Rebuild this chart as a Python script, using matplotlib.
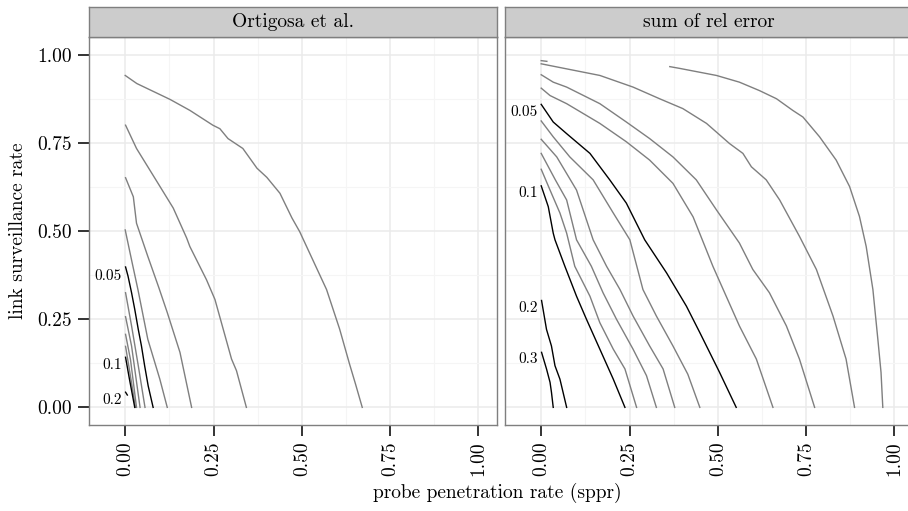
import matplotlib
matplotlib.use('Agg')
import matplotlib.pyplot as plt
import numpy as np

# contour lines, (x, y) per line
# Ortigosa et al. panel
ort_x = [
    [0.0, 0.033, 0.127, 0.183, 0.248, 0.268, 0.291, 0.333, 0.373, 0.401, 0.438, 0.472, 0.494, 0.570, 0.607, 0.635, 0.652, 0.671],
    [0.001, 0.032, 0.093, 0.136, 0.174, 0.183, 0.230, 0.254, 0.301, 0.315, 0.343],
    [0.001, 0.023, 0.032, 0.064, 0.095, 0.119, 0.155, 0.188],
    [0.0, 0.019, 0.036, 0.064, 0.098, 0.119],
    [0.001, 0.008, 0.018, 0.027, 0.037, 0.046, 0.055, 0.065, 0.079],
    [0.001, 0.018, 0.037, 0.056],
    [0.001, 0.018, 0.042],
    [0.001, 0.015, 0.032],
    [0.001, 0.013, 0.029],
    [0.001, 0.012, 0.027],
    [0.001, 0.006],
]
ort_y = [
    [0.941, 0.918, 0.873, 0.842, 0.800, 0.790, 0.762, 0.734, 0.678, 0.652, 0.607, 0.537, 0.498, 0.334, 0.222, 0.123, 0.066, 0.0],
    [0.800, 0.734, 0.635, 0.565, 0.480, 0.456, 0.362, 0.306, 0.137, 0.104, 0.0],
    [0.651, 0.597, 0.522, 0.428, 0.340, 0.269, 0.156, 0.0],
    [0.503, 0.413, 0.334, 0.193, 0.080, 0.0],
    [0.398, 0.372, 0.325, 0.278, 0.221, 0.174, 0.118, 0.061, 0.0],
    [0.325, 0.231, 0.118, 0.0],
    [0.257, 0.174, 0.0],
    [0.207, 0.135, 0.0],
    [0.173, 0.100, 0.0],
    [0.142, 0.080, 0.0],
    [0.043, 0.035],
]
ort_major = [False, False, False, False, True, False, False, False, False, True, True]
ort_labels = ['0.05', '0.1', '0.2']
ort_label_y = [0.373, 0.120, 0.021]

# sum of rel error panel
sre_x = [
    [0.0, 0.016],
    [0.364, 0.392, 0.496, 0.561, 0.618, 0.666, 0.712, 0.741, 0.788, 0.835, 0.873, 0.901, 0.920, 0.939, 0.953, 0.962, 0.967],
    [0.0, 0.025, 0.166, 0.260, 0.335, 0.401, 0.468, 0.533, 0.571, 0.595, 0.637, 0.675, 0.731, 0.779, 0.826, 0.863, 0.887],
    [0.0, 0.034, 0.072, 0.166, 0.241, 0.307, 0.373, 0.439, 0.496, 0.561, 0.599, 0.646, 0.694, 0.731, 0.774],
    [0.0, 0.025, 0.072, 0.166, 0.241, 0.307, 0.373, 0.430, 0.486, 0.561, 0.609, 0.656],
    [0.0, 0.034, 0.072, 0.138, 0.194, 0.241, 0.293, 0.355, 0.411, 0.449, 0.505, 0.552],
    [0.0, 0.034, 0.081, 0.147, 0.204, 0.251, 0.288, 0.326, 0.373, 0.415, 0.449],
    [0.0, 0.044, 0.100, 0.147, 0.185, 0.223, 0.260, 0.307, 0.345, 0.378],
    [0.0, 0.040, 0.072, 0.100, 0.142, 0.175, 0.213, 0.260, 0.298, 0.326],
    [0.0, 0.025, 0.053, 0.072, 0.095, 0.138, 0.166, 0.204, 0.237, 0.270],
    [0.0, 0.020, 0.034, 0.039, 0.067, 0.100, 0.128, 0.166, 0.204, 0.237],
    [0.001, 0.015, 0.029, 0.039, 0.053, 0.072],
    [0.001, 0.015, 0.025, 0.029, 0.034],
]
sre_y = [
    [0.983, 0.981],
    [0.966, 0.961, 0.941, 0.922, 0.898, 0.875, 0.842, 0.823, 0.767, 0.701, 0.626, 0.541, 0.456, 0.334, 0.193, 0.099, 0.0],
    [0.974, 0.969, 0.941, 0.908, 0.875, 0.847, 0.805, 0.748, 0.720, 0.682, 0.645, 0.588, 0.485, 0.391, 0.259, 0.137, 0.0],
    [0.943, 0.922, 0.908, 0.861, 0.809, 0.762, 0.710, 0.645, 0.560, 0.466, 0.391, 0.325, 0.231, 0.137, 0.0],
    [0.905, 0.884, 0.861, 0.805, 0.753, 0.701, 0.635, 0.540, 0.400, 0.231, 0.137, 0.0],
    [0.859, 0.809, 0.776, 0.720, 0.645, 0.579, 0.475, 0.381, 0.287, 0.212, 0.099, 0.0],
    [0.812, 0.767, 0.710, 0.645, 0.551, 0.475, 0.334, 0.259, 0.174, 0.094, 0.0],
    [0.760, 0.710, 0.616, 0.475, 0.400, 0.334, 0.259, 0.174, 0.109, 0.0],
    [0.720, 0.645, 0.588, 0.475, 0.400, 0.325, 0.250, 0.165, 0.090, 0.0],
    [0.675, 0.616, 0.551, 0.494, 0.400, 0.315, 0.240, 0.165, 0.109, 0.0],
    [0.628, 0.569, 0.494, 0.475, 0.400, 0.315, 0.250, 0.165, 0.080, 0.0],
    [0.303, 0.221, 0.174, 0.118, 0.080, 0.0],
    [0.156, 0.109, 0.071, 0.043, 0.0],
]
sre_major = [False, False, False, False, False, True, False, False, False, False, True, True, True]
sre_labels = ['0.05', '0.1', '0.2', '0.3']
sre_label_y = [0.836, 0.608, 0.281, 0.138]

panels = ['Ortigosa et al.', 'sum of rel error']
ticks = [0, 0.25, 0.5, 0.75, 1.0]
tick_labels = ['0.00', '0.25', '0.50', '0.75', '1.00']
minor = [0.125, 0.375, 0.625, 0.875]

plt.rcParams['font.family'] = 'cmr10'
plt.rcParams['mathtext.fontset'] = 'cm'
plt.rcParams['axes.formatter.use_mathtext'] = True

W, H = 908, 511
fig = plt.figure(figsize=(W / 100, H / 100), dpi=100)

panel_left = [89, 505]
pw = 408
top, bottom = 37, 425
strip_top = 7

data = [(ort_x, ort_y, ort_major, ort_labels, ort_label_y),
        (sre_x, sre_y, sre_major, sre_labels, sre_label_y)]

for i, (name, (xs, ys, major, labs, laby)) in enumerate(zip(panels, data)):
    l = panel_left[i]
    ax = fig.add_axes([l / W, (H - bottom) / H, pw / W, (bottom - top) / H])
    ax.set_xlim(-0.1025, 1.0525)
    ax.set_ylim(-0.05, 1.05)
    ax.set_xticks(ticks)
    ax.set_xticks(minor, minor=True)
    ax.set_yticks(ticks)
    ax.set_yticks(minor, minor=True)
    ax.set_xticklabels(tick_labels, rotation=90, fontsize=14)
    ax.grid(which='major', color='#ebebeb', linewidth=1.1)
    ax.grid(which='minor', color='#f5f5f5', linewidth=0.8)
    ax.set_axisbelow(True)
    ax.tick_params(which='minor', length=0)
    ax.tick_params(which='major', length=8, width=1.4, color='#333333', pad=4)
    for s in ax.spines.values():
        s.set_color('#7f7f7f')
        s.set_linewidth(1.0)
    if i == 0:
        ax.set_yticklabels(tick_labels, fontsize=14)
        ax.set_ylabel('link surveillance rate', fontsize=14, labelpad=8)
    else:
        ax.tick_params(axis='y', which='both', length=0, labelleft=False)

    for x, y, m in zip(xs, ys, major):
        ax.plot(x, y, color='black' if m else '#7f7f7f', linewidth=1.0)
    for t, yy in zip(labs, laby):
        ax.text(-0.01, yy, t, fontsize=11, ha='right', va='center')

    sax = fig.add_axes([l / W, (H - top) / H, pw / W, (top - strip_top) / H])
    sax.set_facecolor('#cccccc')
    sax.set_xticks([])
    sax.set_yticks([])
    for s in sax.spines.values():
        s.set_color('#7f7f7f')
        s.set_linewidth(1.0)
    sax.text(0.5, 0.5, name, fontsize=14, ha='center', va='center', transform=sax.transAxes)

fig.text(497 / W, 1 - 493 / H, 'probe penetration rate (sppr)', fontsize=14, ha='center', va='center')

fig.savefig('out.png', dpi=100)
